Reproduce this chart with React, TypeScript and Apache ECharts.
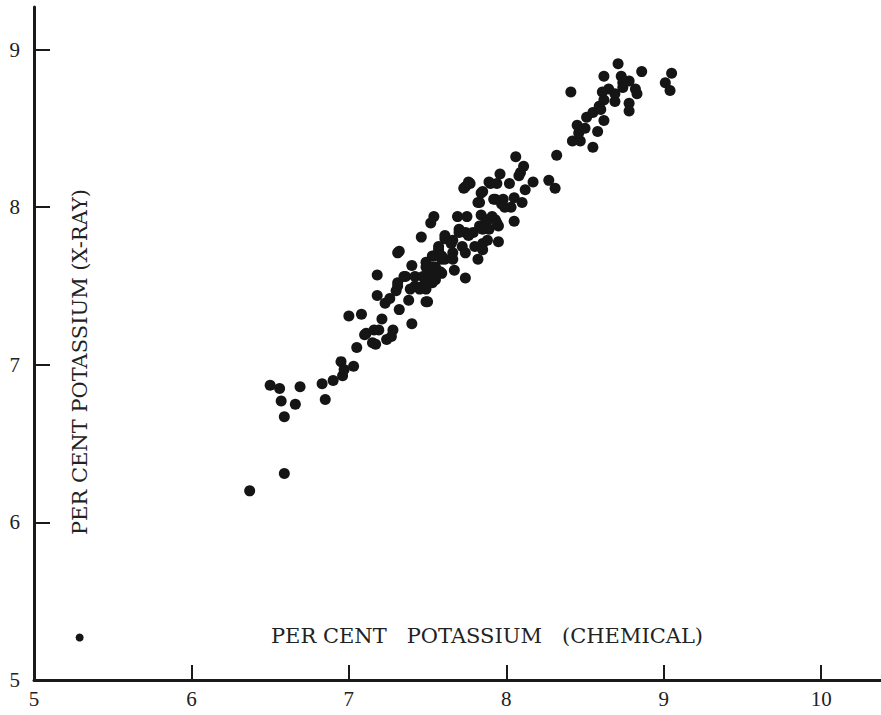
import React, { useEffect, useRef } from "react";
import * as echarts from "echarts";

const xTicks = [5, 6, 7, 8, 9, 10];
const yTicks = [5, 6, 7, 8, 9];
const xTitle = "PER CENT   POTASSIUM   (CHEMICAL)";
const yTitle = "PER CENT POTASSIUM (X-RAY)";

const smallPoints: number[][] = [[5.29, 5.27]];

const points: number[][] = [
  [6.37, 6.2], [6.59, 6.31],
  [6.5, 6.87], [6.56, 6.85], [6.69, 6.86], [6.57, 6.77], [6.66, 6.75], [6.59, 6.67],
  [6.83, 6.88], [6.85, 6.78], [6.9, 6.9], [6.96, 6.93], [6.95, 7.02], [7.03, 6.99], [6.97, 6.97],
  [7.05, 7.11], [7.1, 7.19], [7.0, 7.31], [7.08, 7.32],
  [7.11, 7.2], [7.17, 7.13], [7.16, 7.22], [7.21, 7.29], [7.24, 7.16], [7.27, 7.18], [7.15, 7.14], [7.19, 7.22], [7.28, 7.22],
  [7.23, 7.39], [7.26, 7.42], [7.3, 7.47], [7.32, 7.35], [7.31, 7.5], [7.35, 7.56], [7.31, 7.52],
  [7.18, 7.57], [7.18, 7.44], [7.31, 7.71], [7.4, 7.63], [7.38, 7.41], [7.5, 7.4], [7.4, 7.26], [7.49, 7.4],
  [7.39, 7.48], [7.42, 7.5], [7.45, 7.48], [7.49, 7.54], [7.52, 7.57], [7.55, 7.62], [7.59, 7.67], [7.54, 7.69],
  [7.58, 7.59], [7.66, 7.71], [7.67, 7.6], [7.46, 7.81],
  [7.32, 7.72], [7.36, 7.56], [7.42, 7.56], [7.47, 7.5], [7.49, 7.65], [7.53, 7.62], [7.55, 7.54], [7.59, 7.58],
  [7.49, 7.62], [7.55, 7.6], [7.47, 7.56], [7.53, 7.52], [7.49, 7.48], [7.57, 7.73], [7.53, 7.69], [7.61, 7.67],
  [7.54, 7.94], [7.52, 7.9], [7.69, 7.94], [7.75, 7.94], [7.84, 7.95], [7.87, 7.92], [7.93, 7.92], [7.91, 7.94],
  [7.61, 7.8], [7.65, 7.77], [7.57, 7.75], [7.59, 7.69], [7.66, 7.67], [7.7, 7.86], [7.74, 7.84], [7.79, 7.84],
  [7.83, 7.88], [7.87, 7.9], [7.76, 7.82], [7.7, 7.84], [7.66, 7.79], [7.61, 7.82],
  [7.8, 7.75], [7.85, 7.73], [7.72, 7.75], [7.74, 7.71], [7.85, 7.77], [7.95, 7.78], [7.82, 7.67], [7.74, 7.55],
  [7.89, 7.86], [7.95, 7.88], [7.85, 7.86], [7.88, 7.79], [7.94, 7.9],
  [7.74, 8.13], [7.77, 8.15], [7.9, 8.15], [7.84, 8.09], [7.82, 8.03], [7.93, 8.05], [7.73, 8.12], [7.76, 8.16],
  [7.85, 8.1], [7.92, 8.05], [7.98, 8.05], [8.05, 8.06], [8.1, 8.03], [7.99, 8.0], [8.03, 8.0], [7.83, 8.03], [7.97, 8.02],
  [8.05, 7.91], [7.96, 8.21], [7.89, 8.16], [7.94, 8.15], [8.02, 8.15], [8.17, 8.16], [8.27, 8.17], [8.31, 8.12], [8.12, 8.11],
  [8.06, 8.32], [8.11, 8.26], [8.09, 8.22], [8.08, 8.2], [8.32, 8.33],
  [8.42, 8.42], [8.47, 8.42], [8.55, 8.38], [8.46, 8.47], [8.45, 8.52], [8.5, 8.5], [8.58, 8.48], [8.51, 8.57],
  [8.55, 8.6], [8.6, 8.62], [8.62, 8.55], [8.59, 8.64], [8.65, 8.75],
  [8.62, 8.68], [8.69, 8.67], [8.78, 8.66], [8.78, 8.61],
  [8.61, 8.73], [8.69, 8.72], [8.74, 8.76], [8.82, 8.75], [8.78, 8.8], [8.73, 8.83], [8.62, 8.83], [8.71, 8.91],
  [8.86, 8.86], [8.83, 8.72], [8.74, 8.79], [8.41, 8.73],
  [9.05, 8.85], [9.01, 8.79], [9.04, 8.74],
];

export default function App() {
  const ref = useRef<HTMLDivElement>(null);
  useEffect(() => {
    if (!ref.current) return;
    const chart = echarts.init(ref.current, undefined, { renderer: "svg" });
    const axisColor = "#1a1a1a";
    const labelFont = {
      fontFamily: "Liberation Serif",
      fontSize: 21,
      color: "#222",
    };
    chart.setOption({
      animation: false,
      backgroundColor: "#ffffff",
      grid: { left: 34, right: 0, top: 7, bottom: 35, containLabel: false },
      xAxis: {
        type: "value",
        min: 5,
        max: 10.38,
        splitLine: { show: false },
        axisLine: { show: true, lineStyle: { color: axisColor, width: 3 } },
        axisTick: {
          show: true,
          inside: true,
          length: 15,
          customValues: xTicks,
          lineStyle: { color: axisColor, width: 2 },
        },
        axisLabel: {
          show: true,
          customValues: xTicks,
          margin: 8,
          ...labelFont,
        },
      },
      yAxis: {
        type: "value",
        min: 5,
        max: 9.27,
        splitLine: { show: false },
        axisLine: { show: true, lineStyle: { color: axisColor, width: 3 } },
        axisTick: {
          show: true,
          inside: true,
          length: 16,
          customValues: yTicks,
          lineStyle: { color: axisColor, width: 2 },
        },
        axisLabel: {
          show: true,
          customValues: yTicks,
          margin: 14,
          ...labelFont,
        },
      },
      graphic: [
        {
          type: "text",
          x: 487,
          y: 636,
          style: {
            text: xTitle,
            fontFamily: "DejaVu Serif",
            fontSize: 21,
            fill: "#222",
            textAlign: "center",
            textVerticalAlign: "middle",
          },
        },
        {
          type: "text",
          x: 80,
          y: 362,
          rotation: Math.PI / 2,
          style: {
            text: yTitle,
            fontFamily: "DejaVu Serif",
            fontSize: 21,
            fill: "#222",
            textAlign: "center",
            textVerticalAlign: "middle",
          },
        },
      ],
      series: [
        {
          type: "scatter",
          data: points,
          symbol: "circle",
          symbolSize: 11,
          itemStyle: { color: "#151515", opacity: 1 },
        },
        {
          type: "scatter",
          data: smallPoints,
          symbol: "circle",
          symbolSize: 8,
          itemStyle: { color: "#151515", opacity: 1 },
        },
      ],
    });
    return () => chart.dispose();
  }, []);
  return (
    <div
      ref={ref}
      style={{ width: 881, height: 715, position: "absolute", left: 0, top: 0 }}
    />
  );
}
